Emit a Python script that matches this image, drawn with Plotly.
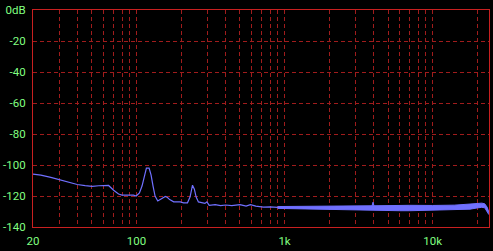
import plotly.graph_objects as go
import math

# ---- data ----
freq_hz = [20, 22.6, 26.4, 30.8, 35.9, 39.8, 45, 50.2, 55.6, 60, 64.8, 70.1, 75.7,
           79.8, 88, 95.5, 99.5, 102, 104.7, 109, 113, 116.7, 121.7, 125.5, 129.4,
           133.5, 139.2, 145, 150, 156.6, 162, 167.6, 178.4, 197.6, 208, 221, 230,
           239, 246, 253, 262, 276, 290, 299, 310, 340, 370, 400, 440, 500, 550,
           588, 640, 720, 800, 900, 1000]
level_db = [-105.9, -106.5, -108.0, -109.6, -111.2, -112.6, -113.3, -113.8, -113.4,
            -113.2, -113.2, -116.3, -118.7, -119.4, -119.4, -119.4, -120.0, -119.2,
            -118.0, -113.6, -106.5, -102.0, -102.0, -106.5, -113.6, -120.0, -123.2,
            -122.3, -121.5, -120.3, -121.0, -122.3, -123.8, -123.8, -124.4, -124.4,
            -120.7, -113.0, -115.6, -120.7, -123.8, -124.4, -124.8, -123.8, -126.0,
            -125.6, -126.2, -125.8, -126.2, -125.6, -126.5, -125.6, -126.5, -127.2,
            -127.0, -127.4, -127.6]

band_freq_hz = [900, 1500, 2500, 3500, 3900, 3960, 4020, 5000, 6000, 7000, 10000,
                14000, 17900, 20000, 21500, 22500, 23400, 24000]
band_top_db = [-126.8, -126.7, -126.5, -126.4, -126.3, -124.0, -126.3, -126.2, -126.0,
               -126.0, -126.1, -125.9, -125.2, -124.8, -124.6, -125.0, -127.3, -130.5]
band_bottom_db = [-128.0, -128.5, -128.8, -129.1, -129.2, -129.2, -129.2, -129.4, -129.5,
                  -129.5, -129.3, -129.1, -128.5, -127.7, -127.3, -127.6, -129.8, -132.0]

x_tick_vals = [20, 30, 40, 50, 60, 70, 80, 90, 100, 200, 300, 400, 500, 600, 700, 800,
               900, 1000, 2000, 3000, 4000, 5000, 6000, 7000, 8000, 9000, 10000, 20000]
x_tick_text = ["20", "", "", "", "", "", "", "", "100", "", "", "", "", "", "", "", "",
               "1k", "", "", "", "", "", "", "", "", "10k", ""]
y_tick_vals = [0, -20, -40, -60, -80, -100, -120, -140]
y_tick_text = ["0dB", "-20", "-40", "-60", "-80", "-100", "-120", "-140"]

x_min_hz = 20
x_max_hz = 24050

LINE = "#7070ff"
GRID = "#a01c1c"
FRAME = "#c82020"
TEXT = "#80ff80"
FONT = "Roboto, sans-serif"

fig = go.Figure()
fig.add_trace(go.Scatter(x=band_freq_hz, y=band_bottom_db, mode="lines",
                         line=dict(color=LINE, width=1), hoverinfo="skip"))
fig.add_trace(go.Scatter(x=band_freq_hz, y=band_top_db, mode="lines",
                         line=dict(color=LINE, width=1), fill="tonexty",
                         fillcolor=LINE, hoverinfo="skip"))
fig.add_trace(go.Scatter(x=freq_hz, y=level_db, mode="lines",
                         line=dict(color=LINE, width=1.2)))

fig.update_layout(
    width=493, height=251,
    margin=dict(l=30, r=4, t=3, b=18),
    paper_bgcolor="black", plot_bgcolor="black",
    showlegend=False,
    font=dict(family=FONT, size=11, color=TEXT),
)
fig.update_xaxes(
    type="log", range=[math.log10(x_min_hz), math.log10(x_max_hz)],
    tickvals=x_tick_vals, ticktext=x_tick_text, ticks="",
    showgrid=True, gridcolor=GRID, griddash="4px,3px", gridwidth=1,
    showline=True, linecolor=FRAME, linewidth=1, mirror=True,
    zeroline=False, ticklabelstandoff=3, ticklabeloverflow="allow",
    tickfont=dict(family=FONT, size=11.5, color=TEXT),
)
fig.update_yaxes(
    range=[-140, 0], tickvals=y_tick_vals, ticktext=y_tick_text, ticks="",
    showgrid=True, gridcolor=GRID, griddash="4px,3px", gridwidth=1,
    showline=True, linecolor=FRAME, linewidth=1, mirror=True,
    zeroline=False, ticklabelstandoff=4, ticklabeloverflow="allow",
    tickfont=dict(family=FONT, size=11.5, color=TEXT),
)

fig.write_html("out.html")
